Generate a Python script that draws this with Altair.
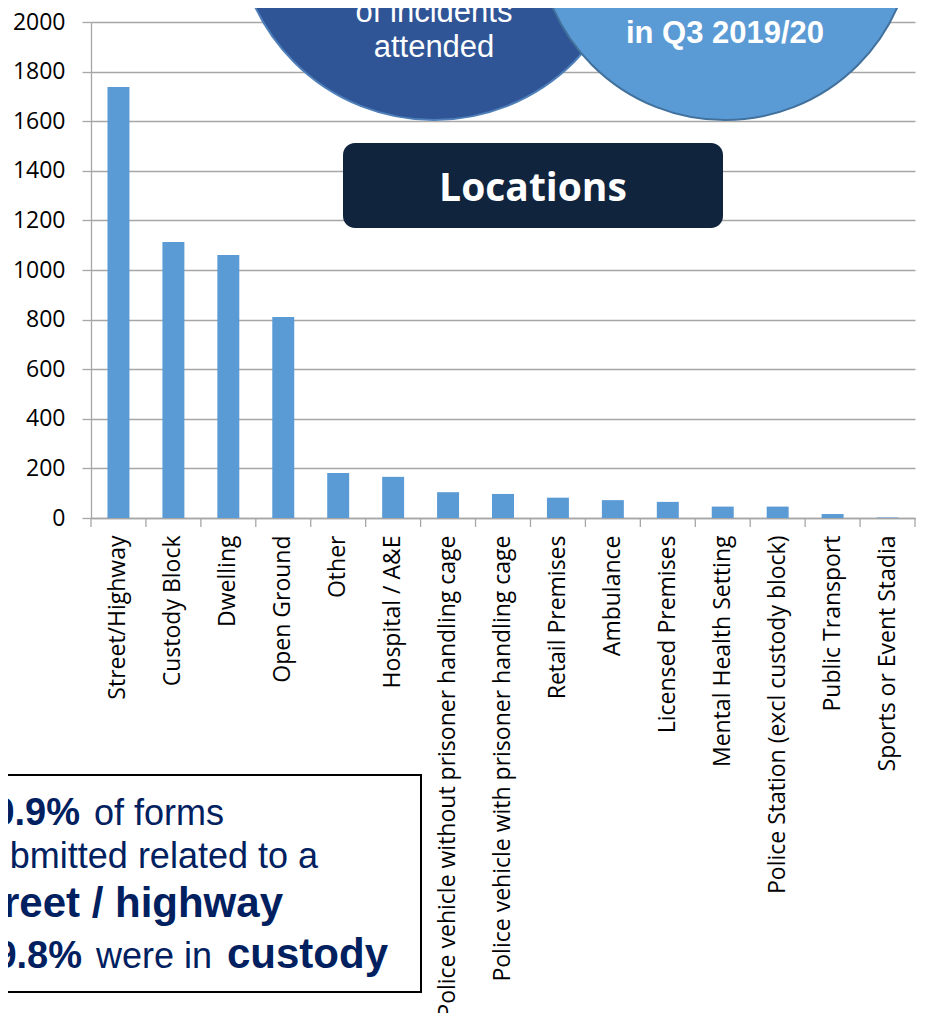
import altair as alt
import pandas as pd

categories = [
    "Street/Highway", "Custody Block", "Dwelling", "Open Ground", "Other",
    "Hospital / A&E", "Police vehicle without prisoner handling cage",
    "Police vehicle with prisoner handling cage", "Retail Premises", "Ambulance",
    "Licensed Premises", "Mental Health Setting", "Police Station (excl custody block)",
    "Public Transport", "Sports or Event Stadia",
]
counts = [1738, 1113, 1060, 810, 181, 166, 104, 97, 82, 72, 65, 46, 46, 16, 2]
y_ticks = [0, 200, 400, 600, 800, 1000, 1200, 1400, 1600, 1800, 2000]

df = pd.DataFrame({"Location": categories, "Count": counts})

W, H = 824, 496
BAR = "#5B9BD5"
NAVY = "#002060"
GRID = "#A6A6A6"
FONT = "Open Sans"

xscale = alt.Scale(domain=categories, paddingInner=0, paddingOuter=0)
yscale = alt.Scale(domain=[0, 2000], nice=False)

bars = alt.Chart(df).mark_bar(color=BAR, width=alt.RelativeBandSize(0.4)).encode(
    x=alt.X("Location:N", sort=categories, scale=xscale,
            axis=alt.Axis(title=None, labelAngle=-90, labelAlign="right", labelBaseline="middle",
                          labelFont=FONT, labelFontSize=23, labelColor="#000000",
                          ticks=False, labelPadding=17, domainColor=GRID, domainWidth=1.3,
                          labelLimit=600, grid=False)),
    y=alt.Y("Count:Q", scale=yscale,
            axis=alt.Axis(title=None, values=y_ticks, format="d", labelFont=FONT, labelFontSize=23,
                          labelColor="#000000", tickColor=GRID, tickSize=9, tickWidth=1.3,
                          labelPadding=17, domainColor=GRID, domainWidth=1.3,
                          gridColor=GRID, gridWidth=1.3)),
)

# category boundary ticks (Excel style, between categories)
tick_left = alt.Chart(df).mark_rule(color=GRID, strokeWidth=1.3).encode(
    x=alt.X("Location:N", sort=categories, scale=xscale, bandPosition=0),
    y=alt.value(H), y2=alt.value(H + 9),
)
tick_right = alt.Chart(df.tail(1)).mark_rule(color=GRID, strokeWidth=1.3).encode(
    x=alt.X("Location:N", sort=categories, scale=xscale, bandPosition=1),
    y=alt.value(H), y2=alt.value(H + 9),
)

one = pd.DataFrame({"k": [0]})

dark_circle = alt.Chart(one).mark_point(
    shape="circle", filled=True, fill="#2F5597", fillOpacity=1,
    stroke="#4F7FB8", strokeWidth=2, size=396 ** 2,
).encode(x=alt.value(343), y=alt.value(-100))

dark_text = alt.Chart(pd.DataFrame({"t": ["of incidents", "attended"], "yy": [0, 35]})).mark_text(
    font="Liberation Sans", fontSize=31, color="white", align="center", baseline="alphabetic",
).encode(x=alt.value(343), y=alt.Y("yy:Q", scale=None), text="t:N")

light_circle = alt.Chart(one).mark_point(
    shape="circle", filled=True, fill=BAR, fillOpacity=1,
    stroke="#41719C", strokeWidth=2, size=376 ** 2,
).encode(x=alt.value(634), y=alt.value(-90))

light_text = alt.Chart(pd.DataFrame({"t": ["submissions", "in Q3 2019/20"], "yy": [-14, 21]})).mark_text(
    font="Liberation Sans", fontSize=31, fontWeight="bold", color="white", align="center",
    baseline="alphabetic",
).encode(x=alt.value(634), y=alt.Y("yy:Q", scale=None), text="t:N")

loc_box = alt.Chart(one).mark_rect(color="#10243E", cornerRadius=12).encode(
    x=alt.value(252), x2=alt.value(632), y=alt.value(121), y2=alt.value(206)
)
loc_text = alt.Chart(one).mark_text(
    text="Locations", font=FONT, fontSize=39, fontWeight="bold", color="white",
    align="center", baseline="middle",
).encode(x=alt.value(442), y=alt.value(167))

note_box = alt.Chart(one).mark_rect(fill="white", stroke="#000000", strokeWidth=2).encode(
    x=alt.value(-120), x2=alt.value(330), y=alt.value(753), y2=alt.value(970)
)

note_parts = pd.DataFrame({
    "t": ["40.9%", "of forms", "submitted related to a", "street / highway",
          "29.8%", "were in", "custody"],
    "xx": [-11, 3, 227, 192, -9, 5, 136],
    "yy": [803, 803, 846, 895, 946, 946, 946],
    "al": ["right", "left", "right", "right", "right", "left", "left"],
    "size": [38, 36, 36, 42, 38, 36, 42],
    "bold": [True, False, False, True, True, False, True],
})


def note_layer(sub, align, bold, size):
    return alt.Chart(sub).mark_text(
        font="Liberation Sans", fontSize=size, color=NAVY, align=align,
        baseline="alphabetic", fontWeight="bold" if bold else "normal",
    ).encode(x=alt.X("xx:Q", scale=None), y=alt.Y("yy:Q", scale=None), text="t:N")


note_layers = []
for (al, b, s), sub in note_parts.groupby(["al", "bold", "size"]):
    note_layers.append(note_layer(sub, al, bool(b), int(s)))

chart = alt.layer(
    bars, tick_left, tick_right, dark_circle, light_circle, dark_text, light_text,
    loc_box, loc_text, note_box, *note_layers,
).properties(
    width=W, height=H,
    autosize=alt.AutoSizeParams(type="none"),
    padding={"left": 83, "top": 14, "right": 10, "bottom": 495},
).configure_view(stroke=None)

chart.save("out.html", embed_options={"renderer": "svg", "actions": False})
